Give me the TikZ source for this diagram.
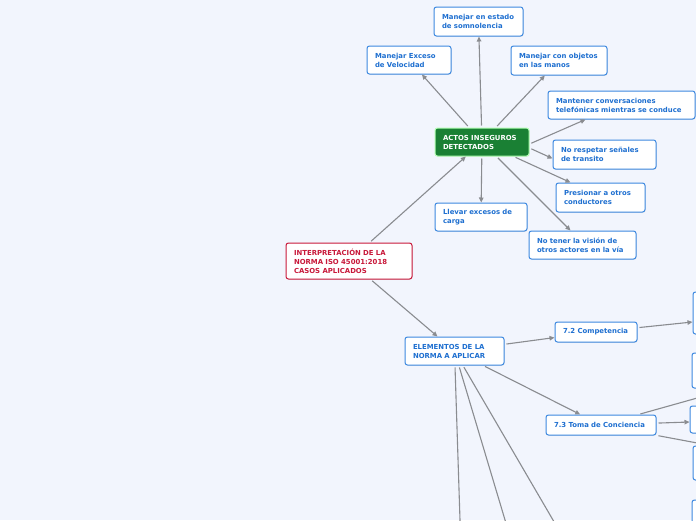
\documentclass[tikz,border=0pt]{standalone}
\usepackage{fontspec}
\setsansfont{DejaVu Sans}
\usetikzlibrary{positioning, arrows.meta, shadows}
\definecolor{bgpage}{HTML}{F2F5FD}
\definecolor{topicblue}{HTML}{1E6FD0}
\definecolor{edgeblue}{HTML}{3C88E0}
\definecolor{rootred}{HTML}{C8183A}
\definecolor{actgreen}{HTML}{1A8034}
\definecolor{linegray}{HTML}{8A8C90}

\begin{document}
\begin{tikzpicture}[
  x=1pt, y=-1pt,
  font=\sffamily\bfseries\fontsize{6.9}{9}\selectfont,
  topic/.style={draw=edgeblue, fill=white, text=topicblue, line width=1pt,
    rounded corners=2.5pt, align=left, inner xsep=8pt, inner ysep=2pt,
    drop shadow={shadow xshift=0.6pt, shadow yshift=-0.8pt, fill=gray!35}},
  actbox/.style={topic, draw=green!30!white, fill=actgreen, text=white},
  rootbox/.style={topic, draw=rootred, text=rootred},
  conn/.style={draw=linegray, line width=1.1pt, shorten <=2pt,
    -{Triangle[length=5pt, width=4.5pt]}},
  plain/.style={draw=linegray, line width=1.1pt, shorten <=2pt}
]

\useasboundingbox (0,0) rectangle (696,520);
\fill[bgpage] (0,0) rectangle (696,520);
\clip (0,0) rectangle (696,520);

% root
\node[rootbox, minimum width=126pt, minimum height=36pt, text width=110pt] (interp) at (349,261)
  {INTERPRETACIÓN DE LA\\NORMA ISO 45001:2018\\CASOS APLICADOS};

% unsafe acts block
\node[actbox, minimum width=94pt, minimum height=28pt, text width=78pt] (actos) at (482,142)
  {ACTOS INSEGUROS\\DETECTADOS};
\node[topic, minimum width=89pt, minimum height=29pt, text width=73pt] (somn) at (478.5,21.5)
  {Manejar en estado\\de somnolencia};
\node[topic, minimum width=84pt, minimum height=28pt, text width=68pt] (exceso) at (409,60)
  {Manejar Exceso\\de Velocidad};
\node[topic, minimum width=96pt, minimum height=29pt, text width=80pt] (objetos) at (559,60.5)
  {Manejar con objetos\\en las manos};
\node[topic, minimum width=147pt, minimum height=28pt, text width=131pt] (mantener) at (621.5,105)
  {Mantener conversaciones\\telefónicas mientras se conduce};
\node[topic, minimum width=103pt, minimum height=29pt, text width=87pt] (respetar) at (604.5,154.5)
  {No respetar señales\\de transito};
\node[topic, minimum width=89pt, minimum height=29pt, text width=73pt] (presionar) at (600.5,197.5)
  {Presionar a otros\\conductores};
\node[topic, minimum width=92pt, minimum height=28pt, text width=76pt] (llevar) at (481,217)
  {Llevar excesos de\\carga};
\node[topic, minimum width=107pt, minimum height=28pt, text width=91pt] (vision) at (582.5,245)
  {No tener la visión de\\otros actores en la vía};

% elements block
\node[topic, minimum width=99pt, minimum height=28pt, text width=83pt] (elementos) at (454.5,351)
  {ELEMENTOS DE LA\\NORMA A APLICAR};
\node[topic, minimum width=82pt, minimum height=20pt, text width=66pt] (comp) at (596,332)
  {7.2 Competencia};
\node[topic, minimum width=110pt, minimum height=20pt, text width=94pt] (toma) at (601,425)
  {7.3 Toma de Conciencia};

% boxes cut by the right edge
\node[topic, minimum width=60pt, minimum height=42pt] (r1) at (723,313) {};
\node[topic, minimum width=60pt, minimum height=35pt] (r2) at (722,370.5) {};
\node[topic, minimum width=60pt, minimum height=27pt] (r3) at (720,419.5) {};
\node[topic, minimum width=60pt, minimum height=34pt] (r4) at (723,463) {};
\node[topic, minimum width=60pt, minimum height=40pt] (r5) at (722,520) {};

% free ends beyond the page
\coordinate (e1) at (461.3,560);
\coordinate (e2) at (517,560);
\coordinate (e3) at (576.3,560);
\coordinate (t1) at (740,386);
\coordinate (t2) at (740,451);

% connectors
\draw[conn] (actos) -- (exceso);
\draw[conn] (actos) -- (somn);
\draw[conn] (actos) -- (objetos);
\draw[conn] ([yshift=-2pt]actos.east) -- ([xshift=-36pt]mantener.south);
\draw[conn] ([yshift=-6pt]actos.east) -- ([yshift=-4pt]respetar.west);
\draw[conn] (actos) -- ([xshift=-30pt]presionar.north);
\draw[conn] (actos) -- (llevar);
\draw[conn] (actos) -- ([xshift=-12pt]vision.north);
\draw[conn] (interp) -- (actos);
\draw[conn] (interp) -- (elementos);
\draw[conn] (elementos) -- (comp);
\draw[conn] (elementos) -- (toma);
\draw[plain] (elementos) -- (e1);
\draw[plain] (elementos) -- (e2);
\draw[plain] (elementos) -- (e3);
\draw[conn] (comp) -- ([yshift=-9pt]r1.west);
\draw[plain] (toma) -- (t1);
\draw[conn] (toma) -- ([yshift=-2.5pt]r3.west);
\draw[plain] (toma) -- (t2);

\end{tikzpicture}
\end{document}
